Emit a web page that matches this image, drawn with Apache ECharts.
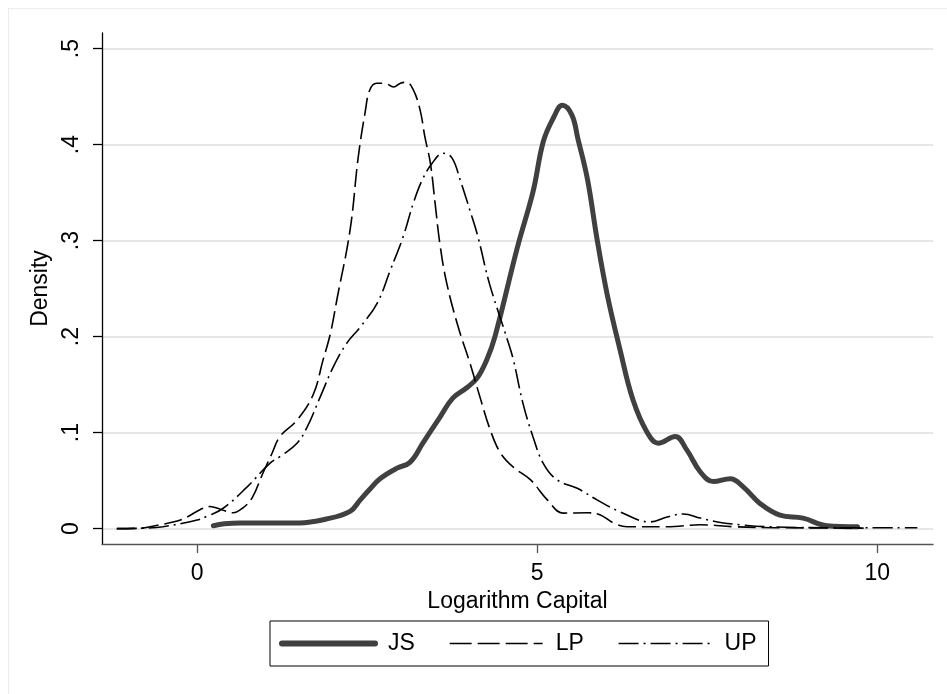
<!DOCTYPE html>
<html>
<head>
<meta charset="utf-8">
<title>Density - Logarithm Capital</title>
<script src="https://cdn.jsdelivr.net/npm/echarts@6/dist/echarts.min.js"></script>
<style>
    html, body {margin:0; padding:0; background:#fff;}
    #wrap {position:relative; width:947px; height:694px; overflow:hidden;}
    #frame {position:absolute; left:8px; top:8px; width:960px; height:720px; border:1px solid #ececec;}
    #main {position:absolute; left:0; top:0; width:947px; height:694px;}
</style>
</head>
<body>
<div id="wrap">
    <div id="frame"></div>
    <div id="main"></div>
</div>
<script>
// 刻度
const xTicks = [0, 5, 10];
const yTicks = [0, 0.1, 0.2, 0.3, 0.4, 0.5];

// JS
const jsX = [0.24, 0.4, 0.63, 1.0, 1.5, 1.9, 2.25, 2.4, 2.54, 2.69, 2.94, 3.13, 3.32, 3.57, 3.76, 3.97, 4.12, 4.26, 4.38,
    4.71, 4.94, 5.09, 5.24, 5.37, 5.51, 5.6, 5.74, 5.88, 6.03, 6.22, 6.41, 6.62, 6.78, 7.03, 7.2, 7.4, 7.59, 7.84, 8.03,
    8.28, 8.57, 8.91, 9.26, 9.71];
const jsY = [0.003, 0.005, 0.006, 0.006, 0.006, 0.01, 0.018, 0.03, 0.041, 0.052, 0.063, 0.069, 0.089, 0.116, 0.136, 0.147, 0.157, 0.176, 0.2,
    0.293, 0.351, 0.403, 0.428, 0.441, 0.431, 0.406, 0.364, 0.302, 0.244, 0.186, 0.134, 0.1, 0.089, 0.096, 0.082, 0.059, 0.049, 0.052, 0.0435,
    0.026, 0.014, 0.011, 0.003, 0.002];

// LP
const lpX = [-1.18, -0.8, -0.69, -0.29, -0.15, 0.05, 0.19, 0.35, 0.53, 0.68, 0.81, 0.97, 1.1, 1.22, 1.47, 1.71, 1.85, 1.96, 2.06,
    2.25, 2.37, 2.47, 2.54, 2.64, 2.76, 2.89, 2.99, 3.08, 3.18, 3.28, 3.35, 3.43, 3.5, 3.57, 3.67, 3.84, 4.01, 4.16, 4.31,
    4.46, 4.65, 4.9, 5.15, 5.38, 5.74, 5.93, 6.12, 6.32, 6.91, 7.4, 7.9, 8.5, 9.8];
const lpY = [0, 0.0005, 0.002, 0.008, 0.012, 0.02, 0.023, 0.02, 0.0165, 0.022, 0.032, 0.058, 0.078, 0.096, 0.113, 0.14, 0.175, 0.203, 0.24,
    0.311, 0.387, 0.433, 0.457, 0.464, 0.464, 0.46, 0.464, 0.465, 0.457, 0.436, 0.408, 0.381, 0.339, 0.297, 0.256, 0.21, 0.173, 0.137, 0.103,
    0.079, 0.064, 0.051, 0.03, 0.0162, 0.0165, 0.0143, 0.006, 0.002, 0.002, 0.004, 0.002, 0.001, 0.0005];

// UP
const upX = [-1.18, -0.8, -0.5, 0, 0.15, 0.38, 0.73, 1.07, 1.22, 1.47, 1.62, 1.81, 2.0, 2.2, 2.4, 2.65, 2.84, 3.03, 3.18,
    3.31, 3.46, 3.62, 3.75, 3.87, 4.01, 4.13, 4.3, 4.53, 4.65, 4.79, 4.94, 5.09, 5.29, 5.59, 5.88, 6.22, 6.66, 6.91, 7.15,
    7.4, 7.65, 7.99, 8.38, 9.35, 10.59];
const upY = [0, 0.0005, 0.002, 0.009, 0.013, 0.021, 0.043, 0.068, 0.075, 0.089, 0.106, 0.137, 0.168, 0.193, 0.21, 0.235, 0.269, 0.304, 0.339,
    0.363, 0.381, 0.391, 0.386, 0.363, 0.332, 0.304, 0.255, 0.204, 0.176, 0.131, 0.0955, 0.068, 0.051, 0.042, 0.03, 0.0175, 0.007, 0.0122, 0.0153,
    0.011, 0.007, 0.004, 0.002, 0.001, 0.001];

function zip(xs, ys) {
    return xs.map((x, i) => [x, ys[i]]);
}

const font = 'Liberation Sans, Arial, sans-serif';
let myChart = echarts.init(document.getElementById('main'));

myChart.setOption({
    animation: false,
    backgroundColor: 'transparent',
    grid: {
        left: 102,
        right: 14,
        top: 33,
        bottom: 150
    },
    legend: {
        left: 270,
        top: 621,
        data: [
            {name: 'JS', lineStyle: {width: 6, color: '#404040', cap: 'round'}},
            {name: 'LP', lineStyle: {width: 1.6, color: '#000', type: [22, 6]}},
            {name: 'UP', lineStyle: {width: 1.6, color: '#000', type: [20, 5, 2, 5]}}
        ],
        itemWidth: 93,
        itemHeight: 14,
        itemGap: 34,
        itemStyle: {opacity: 0},
        padding: [10, 12, 10, 9],
        borderColor: '#000',
        borderWidth: 1,
        borderRadius: 0,
        textStyle: {
            fontFamily: font,
            fontSize: 23,
            color: '#000',
            lineHeight: 25,
            padding: [0, 0, 0, 8]
        }
    },
    xAxis: {
        type: 'value',
        min: -1.397,
        max: 10.82,
        name: 'Logarithm Capital',
        nameLocation: 'middle',
        nameGap: 45,
        nameTextStyle: {fontFamily: font, fontSize: 23, color: '#000'},
        axisLine: {onZero: false, lineStyle: {color: '#555', width: 1.3}},
        axisTick: {show: true, length: 9, lineStyle: {color: '#555', width: 1.3}, customValues: xTicks},
        axisLabel: {fontFamily: font, fontSize: 23, color: '#000', margin: 18, customValues: xTicks},
        splitLine: {show: false}
    },
    yAxis: {
        type: 'value',
        min: -0.016,
        max: 0.5163,
        name: 'Density',
        nameLocation: 'middle',
        nameRotate: 90,
        nameGap: 43,
        nameTextStyle: {fontFamily: font, fontSize: 23, color: '#000'},
        axisLine: {show: true, onZero: false, lineStyle: {color: '#000', width: 1.3}},
        axisTick: {show: true, length: 9, lineStyle: {color: '#000', width: 1.3}, customValues: yTicks},
        axisLabel: {
            fontFamily: font,
            fontSize: 23,
            color: '#000',
            rotate: 90,
            margin: 19,
            customValues: yTicks,
            formatter: function (v) {
                return v === 0 ? '0' : String(v).replace(/^0/, '');
            }
        },
        splitLine: {show: true, lineStyle: {color: '#e6e6e6', width: 2}}
    },
    series: [
        {
            name: 'JS',
            type: 'line',
            smooth: 0.4,
            symbol: 'none',
            lineStyle: {color: '#404040', width: 5, cap: 'round', join: 'round'},
            itemStyle: {color: '#404040'},
            z: 3,
            data: zip(jsX, jsY)
        },
        {
            name: 'LP',
            type: 'line',
            smooth: 0.4,
            symbol: 'none',
            lineStyle: {color: '#000', width: 1.6, type: [18, 6]},
            itemStyle: {color: '#000'},
            data: zip(lpX, lpY)
        },
        {
            name: 'UP',
            type: 'line',
            smooth: 0.4,
            symbol: 'none',
            lineStyle: {color: '#000', width: 1.6, type: [20, 5, 2, 5]},
            itemStyle: {color: '#000'},
            data: zip(upX, upY)
        }
    ]
});
</script>
</body>
</html>
